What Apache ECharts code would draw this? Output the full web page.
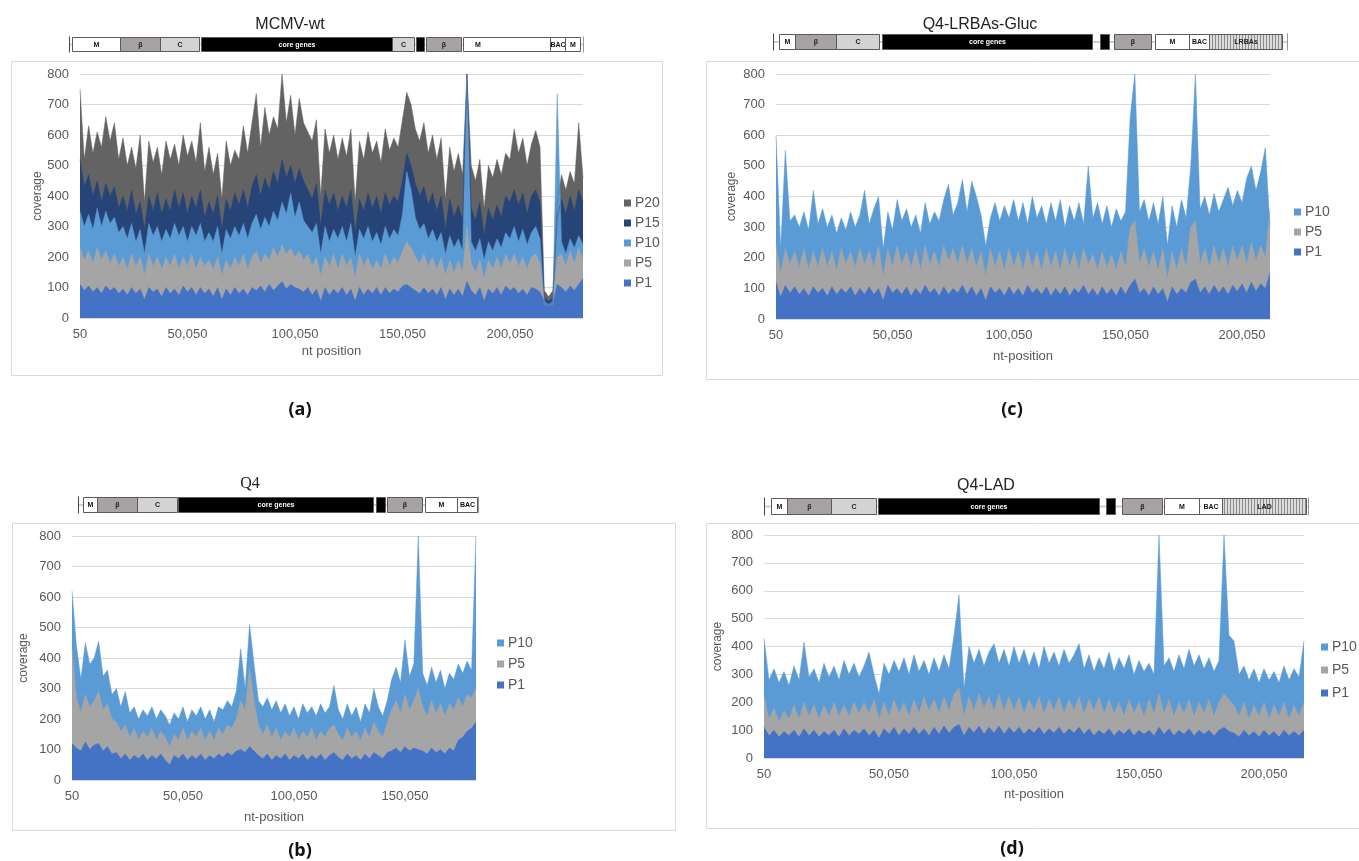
<!DOCTYPE html>
<html>
<head>
<meta charset="utf-8">
<script src="https://cdn.jsdelivr.net/npm/echarts@6/dist/echarts.min.js"></script>
<style>
  html, body { margin: 0; padding: 0; background: #fff; }
  #chart { width: 1359px; height: 861px; }
</style>
</head>
<body>
<div id="chart"></div>
<script>
"use strict";

// coverage, one value every 2,000 nt starting at nt 50
const STEP = 2000;

// (a) MCMV-wt
const p20A = [
  750, 520, 630, 540, 610, 560, 660, 580, 640, 520,
  590, 500, 560, 490, 600, 380, 580, 510, 560, 470,
  580, 520, 570, 500, 600, 530, 580, 510, 640, 480,
  560, 470, 540, 390, 580, 500, 550, 520, 630, 540,
  640, 735, 560, 690, 600, 660, 620, 800, 640, 730,
  600, 720, 640, 610, 580, 650, 400, 620, 540, 600,
  520, 590, 530, 620, 380, 580, 520, 610, 540, 580,
  510, 620, 550, 590, 560, 650, 740, 700, 620, 580,
  640, 540, 600, 520, 590, 390, 560, 480, 540, 470,
  800, 500, 450, 520, 360, 500, 460, 520, 470, 540,
  520, 620, 540, 590, 500, 570, 615, 560, 90, 70,
  90, 380, 470, 420, 480, 440, 640, 460
];
const p15A = [
  520, 430, 470, 400, 450, 380, 440, 400, 430, 360,
  400, 350, 420, 340, 380, 290, 400, 350, 410, 340,
  390, 350, 420, 360, 410, 340, 400, 360, 420, 330,
  380, 340, 400, 290, 390, 350, 410, 370, 420, 360,
  430, 470, 400, 460, 420, 480, 440, 520, 460, 500,
  440, 490, 450, 420, 390, 440, 300, 420, 370, 410,
  350, 400, 360, 420, 280, 390, 350, 410, 360, 400,
  340, 410, 370, 400, 380, 450, 540, 500, 440, 400,
  430, 370, 410, 350, 400, 290, 390, 330, 370, 320,
  800, 360, 320, 380, 270, 360, 320, 370, 330, 400,
  380, 420, 370, 410, 340, 400, 420, 380, 65, 55,
  65, 330, 390, 340, 400, 350, 420, 380
];
const p10A = [
  350, 300, 340, 290, 360, 300, 350, 310, 330, 280,
  300, 260, 310, 250, 290, 210, 310, 270, 300, 250,
  290, 260, 310, 270, 300, 250, 300, 270, 310, 250,
  280, 250, 300, 210, 290, 260, 300, 270, 310, 260,
  310, 340, 290, 330, 300, 350, 320, 380, 340, 410,
  330, 380, 320, 300, 280, 310, 210, 300, 250, 290,
  260, 300, 250, 310, 200, 290, 260, 300, 250, 280,
  240, 300, 260, 290, 270, 340, 480, 420, 330, 290,
  310, 260, 290, 250, 280, 210, 270, 230, 260, 220,
  790, 250, 220, 260, 190, 250, 220, 260, 230, 280,
  260, 300, 250, 290, 240, 280, 300, 260, 55, 45,
  55, 735, 250, 210, 260, 230, 270, 240
];
const p5A = [
  230, 190, 220, 180, 230, 190, 220, 180, 210, 170,
  200, 160, 210, 170, 200, 140, 210, 170, 200, 160,
  200, 170, 210, 160, 200, 170, 210, 160, 200, 170,
  190, 160, 200, 140, 190, 160, 200, 170, 210, 160,
  200, 220, 180, 210, 190, 230, 200, 240, 210, 230,
  200, 220, 190, 210, 170, 200, 140, 200, 170, 210,
  160, 210, 170, 200, 130, 210, 170, 200, 160, 190,
  160, 210, 170, 200, 180, 220, 250, 230, 200, 180,
  210, 170, 200, 160, 200, 140, 190, 150, 190, 150,
  300, 180, 150, 190, 130, 190, 160, 200, 160, 210,
  180, 210, 170, 200, 160, 200, 210, 180, 45, 40,
  45, 200, 210, 170, 220, 180, 230, 190
];
const p1A = [
  110, 90, 105, 85, 100, 80, 105, 90, 100, 80,
  95, 75, 100, 80, 95, 60, 100, 85, 95, 70,
  100, 80, 95, 75, 105, 85, 100, 75, 100, 80,
  95, 70, 100, 60, 95, 75, 100, 80, 95, 75,
  100, 90, 105, 85, 110, 90, 105, 120, 95, 110,
  100, 95, 85, 100, 75, 95, 55, 100, 75, 95,
  80, 100, 75, 95, 55, 100, 75, 95, 80, 100,
  75, 100, 80, 95, 85, 105, 110, 100, 90, 80,
  100, 80, 95, 75, 100, 60, 95, 75, 95, 70,
  120, 90, 75, 100, 55, 95, 80, 100, 75, 105,
  90, 100, 80, 95, 75, 100, 95, 85, 55, 45,
  50, 110, 100, 85, 105, 90, 110, 130
];

// (c) Q4-LRBAs-Gluc
const p10C = [
  600, 230, 550, 320, 340, 300, 350, 290, 420, 310,
  360, 300, 340, 280, 330, 290, 350, 300, 340, 420,
  310, 360, 400, 230, 350, 290, 390, 320, 360, 300,
  340, 280, 380, 310, 350, 320, 390, 440, 340, 380,
  455, 350, 450, 400, 340, 240, 330, 380, 320, 370,
  330, 390, 320, 380, 310, 400, 330, 370, 310, 380,
  320, 390, 300, 370, 320, 380, 310, 500, 330, 380,
  310, 370, 300, 360, 320, 350, 660, 800, 350, 390,
  320, 380, 310, 400, 240, 370, 300, 390, 330, 500,
  800, 360, 400, 340, 410, 350, 390, 430, 370, 420,
  380, 460, 500, 420, 480, 560, 300
];
const p5C = [
  240, 150, 230, 180, 220, 170, 230, 160, 220, 170,
  230, 170, 220, 160, 230, 180, 220, 170, 230, 180,
  220, 170, 240, 140, 230, 170, 240, 180, 220, 170,
  230, 160, 240, 180, 220, 170, 240, 190, 230, 180,
  240, 180, 230, 170, 220, 140, 230, 170, 220, 160,
  230, 170, 220, 160, 230, 170, 220, 160, 230, 170,
  220, 160, 230, 170, 220, 160, 230, 180, 210, 160,
  220, 170, 210, 160, 220, 170, 300, 320, 180, 230,
  170, 220, 160, 230, 130, 220, 160, 230, 170, 300,
  320, 180, 230, 170, 240, 180, 230, 170, 240, 190,
  240, 180, 250, 190, 240, 200, 360
];
const p1C = [
  120, 70, 110, 85, 105, 80, 100, 75, 105, 85,
  100, 75, 105, 80, 100, 85, 105, 75, 100, 80,
  105, 80, 100, 60, 110, 85, 100, 80, 105, 75,
  100, 80, 110, 85, 100, 75, 105, 80, 100, 85,
  110, 80, 105, 75, 100, 60, 105, 85, 100, 75,
  105, 80, 100, 75, 110, 85, 100, 80, 105, 75,
  100, 80, 105, 75, 100, 85, 110, 80, 100, 75,
  105, 80, 100, 75, 105, 80, 110, 130, 85, 100,
  75, 105, 80, 100, 55, 105, 80, 100, 85, 120,
  130, 85, 105, 80, 110, 85, 105, 80, 110, 90,
  115, 85, 120, 90, 115, 100, 150
];

// (b) Q4
const p10B = [
  620, 440, 330, 450, 380, 400, 455, 340, 360, 280,
  300, 240, 290, 220, 240, 200, 230, 210, 240, 200,
  230, 210, 180, 220, 200, 240, 190, 230, 210, 240,
  200, 230, 190, 240, 230, 260, 240, 290, 430, 300,
  510, 380, 260, 240, 270, 230, 260, 220, 250, 210,
  240, 200, 250, 220, 240, 210, 250, 220, 240, 310,
  230, 200, 250, 210, 240, 190, 250, 220, 300, 240,
  210, 260, 330, 370, 320, 460, 340, 380, 800, 350,
  310, 370, 320, 360, 300, 350, 330, 380, 350, 390,
  360, 800
];
const p5B = [
  430, 270, 220, 280, 240, 260, 290, 230, 250, 200,
  190, 160, 180, 140, 170, 130, 160, 140, 170, 130,
  160, 140, 110, 150, 130, 170, 130, 160, 140, 170,
  130, 160, 130, 170, 150, 180, 170, 200, 260, 230,
  370, 260, 180, 150, 180, 140, 170, 130, 160, 140,
  170, 130, 160, 140, 170, 130, 160, 140, 170, 180,
  150, 130, 170, 140, 160, 130, 170, 140, 190, 160,
  140, 190, 230, 260, 220, 280, 230, 260, 300, 240,
  210, 260, 220, 250, 210, 250, 230, 270, 240, 280,
  270, 300
];
const p1B = [
  120, 105, 95, 125, 100, 115, 120, 95, 110, 85,
  90, 70, 85, 65, 80, 70, 85, 65, 80, 70,
  85, 65, 50, 80, 70, 85, 65, 80, 70, 85,
  65, 80, 70, 85, 75, 90, 80, 95, 100, 90,
  110, 95, 80, 70, 85, 65, 80, 70, 85, 65,
  80, 70, 85, 65, 80, 70, 85, 65, 80, 90,
  75, 65, 85, 70, 80, 65, 85, 70, 90, 80,
  70, 90, 95, 105, 90, 110, 95, 105, 100, 95,
  85, 105, 90, 100, 85, 105, 95, 130, 140, 160,
  170, 190
];

// (d) Q4-LAD
const p10D = [
  430, 280, 320, 270, 310, 260, 330, 280, 415, 290,
  320, 270, 340, 290, 330, 280, 350, 300, 340, 290,
  330, 380, 300, 230, 340, 300, 350, 310, 360, 300,
  370, 310, 350, 300, 360, 310, 370, 320, 440, 585,
  250, 400, 340, 390, 330, 380, 410, 340, 390, 330,
  400, 340, 390, 330, 380, 320, 400, 340, 380, 330,
  390, 340, 370, 410, 320, 370, 310, 360, 320, 380,
  310, 360, 320, 370, 300, 350, 310, 340, 300, 800,
  330, 360, 310, 370, 320, 390, 330, 370, 320, 360,
  310, 350, 800, 440, 420, 300, 330, 280, 320, 270,
  320, 280, 310, 270, 330, 280, 320, 290, 420
];
const p5D = [
  220, 140, 180, 130, 170, 140, 190, 140, 200, 150,
  190, 140, 190, 150, 200, 150, 190, 150, 200, 160,
  200, 160, 210, 140, 200, 150, 210, 160, 200, 150,
  210, 160, 220, 170, 210, 160, 220, 170, 230, 250,
  150, 220, 170, 230, 180, 220, 170, 230, 170, 220,
  170, 220, 160, 210, 170, 220, 160, 210, 170, 220,
  160, 210, 170, 220, 160, 210, 170, 220, 160, 210,
  160, 200, 150, 210, 160, 200, 150, 210, 160, 230,
  160, 210, 150, 200, 160, 210, 150, 200, 160, 210,
  150, 200, 230, 210, 190, 150, 200, 140, 190, 150,
  200, 140, 190, 150, 200, 140, 190, 150, 200
];
const p1D = [
  110, 80, 100, 75, 95, 80, 100, 75, 105, 80,
  100, 75, 95, 80, 100, 75, 105, 80, 100, 85,
  105, 80, 100, 70, 105, 85, 110, 80, 105, 85,
  110, 85, 105, 80, 110, 85, 115, 90, 110, 120,
  80, 110, 90, 115, 85, 110, 90, 115, 85, 110,
  90, 110, 85, 105, 90, 110, 85, 105, 90, 110,
  85, 105, 90, 110, 85, 105, 80, 100, 85, 105,
  80, 100, 85, 105, 80, 100, 85, 100, 80, 110,
  85, 105, 80, 100, 85, 105, 80, 100, 85, 100,
  80, 100, 110, 95, 90, 75, 100, 80, 95, 75,
  100, 80, 95, 75, 100, 80, 95, 80, 100
];

// genome maps: [label, kind, start, end, label position (optional)] along each map
const mapA = [
  ['', 'axis', 0, 514],
  ['M', 'M', 3, 51], ['β', 'b', 51, 91], ['C', 'C', 91, 130],
  ['core genes', 'core', 132, 323], ['C', 'C', 323, 345], ['', 'blk', 347, 355],
  ['β', 'b', 357, 392], ['M', 'M', 394, 481, 409], ['BAC', 'M', 481, 496], ['M', 'M', 496, 511]
];
const mapC = [
  ['', 'axis', 0, 514],
  ['M', 'M', 6, 22], ['β', 'b', 22, 63], ['C', 'C', 63, 106],
  ['core genes', 'core', 109, 319], ['', 'blk', 327, 336],
  ['β', 'b', 341, 378], ['M', 'M', 382, 416], ['BAC', 'M', 416, 436], ['LRBAs', 'hatch', 436, 509]
];
const mapB = [
  ['', 'axis', 0, 400],
  ['M', 'M', 5, 19], ['β', 'b', 19, 59], ['C', 'C', 59, 99],
  ['core genes', 'core', 100, 295], ['', 'blk', 298, 307],
  ['β', 'b', 309, 344], ['M', 'M', 347, 379], ['BAC', 'M', 379, 399]
];
const mapD = [
  ['', 'axis', 0, 544],
  ['M', 'M', 7, 23], ['β', 'b', 23, 67], ['C', 'C', 67, 112],
  ['core genes', 'core', 114, 335], ['', 'blk', 342, 351],
  ['β', 'b', 358, 398], ['M', 'M', 400, 435], ['BAC', 'M', 435, 458], ['LAD', 'hatch', 458, 542]
];

const COLORS = { P20: '#636363', P15: '#264478', P10: '#5B9BD5', P5: '#A5A5A5', P1: '#4472C4' };
const FONT = '"Liberation Sans", Arial, sans-serif';
const TXT = '#595959';

// hatch fill for the inserted cassettes
const hc = document.createElement('canvas');
hc.width = 3; hc.height = 4;
const hg = hc.getContext('2d');
hg.fillStyle = '#dcdcdc'; hg.fillRect(0, 0, 3, 4);
hg.fillStyle = '#8c8c8c'; hg.fillRect(0, 0, 1, 4);
const HATCH = { image: hc, repeat: 'repeat' };

const SEG = {
  M: { fill: '#ffffff', text: '#111' },
  b: { fill: '#a7a3a3', text: '#222' },
  C: { fill: '#d3d3d3', text: '#222' },
  core: { fill: '#000000', text: '#fff' },
  blk: { fill: '#000000', text: '#fff' },
  hatch: { fill: HATCH, text: '#222' }
};

let positions = (n) => Array.from({ length: n }, (_, i) => 50 + i * STEP);

let mapRenderer = (segs) => (params, api) => {
  const seg = segs[params.dataIndex];
  const a = api.coord([seg[2], 1]);
  const b = api.coord([seg[3], 0]);
  const x0 = Math.round(a[0]) + 0.5, y0 = Math.round(a[1]) + 0.5;
  const w = Math.round(b[0] - a[0]), h = Math.round(b[1] - a[1]);
  if (seg[1] === 'axis') {
    return { type: 'group', children: [
      { type: 'line', shape: { x1: x0, y1: y0 + h / 2, x2: x0 + w, y2: y0 + h / 2 }, style: { stroke: '#cfcfcf', lineWidth: 2 } },
      { type: 'line', shape: { x1: x0, y1: y0 - 1, x2: x0, y2: y0 + h + 1 }, style: { stroke: '#444', lineWidth: 1 } },
      { type: 'line', shape: { x1: x0 + w, y1: y0 - 1, x2: x0 + w, y2: y0 + h + 1 }, style: { stroke: '#999', lineWidth: 1 } }
    ] };
  }
  const st = SEG[seg[1]];
  const lx = seg.length > 4 ? api.coord([seg[4], 0])[0] : x0 + w / 2;
  return { type: 'group', children: [
    { type: 'rect', shape: { x: x0, y: y0, width: w, height: h }, style: { fill: st.fill, stroke: '#5a5a5a', lineWidth: 1 } },
    { type: 'text', x: lx, y: y0 + h / 2 + 0.5,
      style: { text: seg[0], fill: st.text, font: 'bold 7px ' + FONT,
               align: 'center', verticalAlign: 'middle', textAlign: 'center', textVerticalAlign: 'middle' } }
  ] };
};

// panels: plot grid, map grid, data, axis-name gaps, legend place
const panels = [
  { grid: { left: 80, top: 74, width: 503, height: 244 }, map: { left: 69, top: 37, width: 514, height: 14 }, segs: mapA,
    series: { P20: p20A, P15: p15A, P10: p10A, P5: p5A, P1: p1A }, xName: 'nt position', yGap: 36, xGap: 27,
    legend: { left: 624, top: 196, itemGap: 6 } },
  { grid: { left: 776, top: 74, width: 494, height: 245 }, map: { left: 773, top: 34, width: 514, height: 15 }, segs: mapC,
    series: { P10: p10C, P5: p5C, P1: p1C }, xName: 'nt-position', yGap: 38, xGap: 31,
    legend: { left: 1294, top: 205, itemGap: 6 } },
  { grid: { left: 72, top: 536, width: 404, height: 244 }, map: { left: 78, top: 497, width: 400, height: 15 }, segs: mapB,
    series: { P10: p10B, P5: p5B, P1: p1B }, xName: 'nt-position', yGap: 42, xGap: 31,
    legend: { left: 497, top: 636, itemGap: 7 } },
  { grid: { left: 764, top: 535, width: 540, height: 223 }, map: { left: 764, top: 498, width: 544, height: 16 }, segs: mapD,
    series: { P10: p10D, P5: p5D, P1: p1D }, xName: 'nt-position', yGap: 40, xGap: 30,
    legend: { left: 1321, top: 640, itemGap: 9 } }
];

const option = {
  animation: false,
  backgroundColor: '#fff',
  grid: [], xAxis: [], yAxis: [], series: [], legend: [],
  graphic: [
    { type: 'rect', shape: { x: 11.5, y: 61.5, width: 651, height: 314 }, style: { fill: 'none', stroke: '#d9d9d9' } },
    { type: 'rect', shape: { x: 706.5, y: 61.5, width: 670, height: 318 }, style: { fill: 'none', stroke: '#d9d9d9' } },
    { type: 'rect', shape: { x: 12.5, y: 523.5, width: 663, height: 307 }, style: { fill: 'none', stroke: '#d9d9d9' } },
    { type: 'rect', shape: { x: 706.5, y: 523.5, width: 670, height: 305 }, style: { fill: 'none', stroke: '#d9d9d9' } },
    { type: 'text', x: 290, y: 25, style: { text: 'MCMV-wt', font: '16px ' + FONT, fill: '#222', textAlign: 'center', textVerticalAlign: 'middle', align: 'center', verticalAlign: 'middle' } },
    { type: 'text', x: 980, y: 25, style: { text: 'Q4-LRBAs-Gluc', font: '16px ' + FONT, fill: '#222', textAlign: 'center', textVerticalAlign: 'middle', align: 'center', verticalAlign: 'middle' } },
    { type: 'text', x: 250, y: 484, style: { text: 'Q4', font: '16px "Liberation Serif", "Times New Roman", serif', fill: '#222', textAlign: 'center', textVerticalAlign: 'middle', align: 'center', verticalAlign: 'middle' } },
    { type: 'text', x: 986, y: 486, style: { text: 'Q4-LAD', font: '16px ' + FONT, fill: '#222', textAlign: 'center', textVerticalAlign: 'middle', align: 'center', verticalAlign: 'middle' } },
    { type: 'text', x: 300, y: 410, style: { text: '(a)', font: 'bold 18px "Open Sans", sans-serif', fill: '#111', textAlign: 'center', textVerticalAlign: 'middle', align: 'center', verticalAlign: 'middle' } },
    { type: 'text', x: 1012, y: 410, style: { text: '(c)', font: 'bold 18px "Open Sans", sans-serif', fill: '#111', textAlign: 'center', textVerticalAlign: 'middle', align: 'center', verticalAlign: 'middle' } },
    { type: 'text', x: 300, y: 851, style: { text: '(b)', font: 'bold 18px "Open Sans", sans-serif', fill: '#111', textAlign: 'center', textVerticalAlign: 'middle', align: 'center', verticalAlign: 'middle' } },
    { type: 'text', x: 1012, y: 849, style: { text: '(d)', font: 'bold 18px "Open Sans", sans-serif', fill: '#111', textAlign: 'center', textVerticalAlign: 'middle', align: 'center', verticalAlign: 'middle' } }
  ]
};

panels.forEach((p, k) => {
  const names = Object.keys(p.series);
  const n = p.series[names[0]].length;
  const gi = option.grid.length;

  option.grid.push(p.grid);
  option.xAxis.push({
    gridIndex: gi, type: 'category', boundaryGap: false, data: positions(n),
    axisLine: { lineStyle: { color: '#d9d9d9' } }, axisTick: { show: false },
    axisLabel: { interval: 24, color: TXT, fontSize: 13, fontFamily: FONT, margin: 10,
                 formatter: (v) => Number(v).toLocaleString('en-US') },
    name: p.xName, nameLocation: 'middle', nameGap: p.xGap,
    nameTextStyle: { color: TXT, fontSize: 13, fontFamily: FONT }
  });
  option.yAxis.push({
    gridIndex: gi, type: 'value', min: 0, max: 800, interval: 100,
    axisLine: { show: false }, axisTick: { show: false },
    axisLabel: { color: TXT, fontSize: 13, fontFamily: FONT, margin: 11 },
    splitLine: { lineStyle: { color: '#d9d9d9' } },
    name: 'coverage', nameLocation: 'middle', nameGap: p.yGap,
    nameTextStyle: { color: TXT, fontSize: 12, fontFamily: FONT }
  });
  names.forEach((nm) => {
    option.series.push({
      name: nm, type: 'line', xAxisIndex: gi, yAxisIndex: gi,
      data: p.series[nm], symbol: 'none', sampling: null, silent: true,
      color: COLORS[nm],
      lineStyle: { width: 0.5, color: COLORS[nm] },
      areaStyle: { color: COLORS[nm], opacity: 1 }
    });
  });
  option.legend.push({
    data: names, orient: 'vertical', left: p.legend.left, top: p.legend.top,
    icon: 'rect', itemWidth: 7, itemHeight: 7, itemGap: p.legend.itemGap, padding: 0,
    selectedMode: false,
    textStyle: { color: TXT, fontSize: 14, fontFamily: FONT, lineHeight: 14, padding: [0, 0, 0, -1] }
  });
});

// genome-map strips above each chart
panels.forEach((p) => {
  const gi = option.grid.length;
  option.grid.push(p.map);
  option.xAxis.push({ gridIndex: gi, type: 'value', min: 0, max: p.segs[0][3], show: false });
  option.yAxis.push({ gridIndex: gi, type: 'value', min: 0, max: 1, show: false });
  option.series.push({
    type: 'custom', xAxisIndex: gi, yAxisIndex: gi, silent: true, clip: false,
    data: p.segs.map((s) => [s[2], s[3]]),
    renderItem: mapRenderer(p.segs)
  });
});

let pageLoaded = () => {
  const chart = echarts.init(document.getElementById('chart'), null, { renderer: 'canvas' });
  chart.setOption(option);
};

window.addEventListener('load', pageLoaded, false);
</script>
</body>
</html>
